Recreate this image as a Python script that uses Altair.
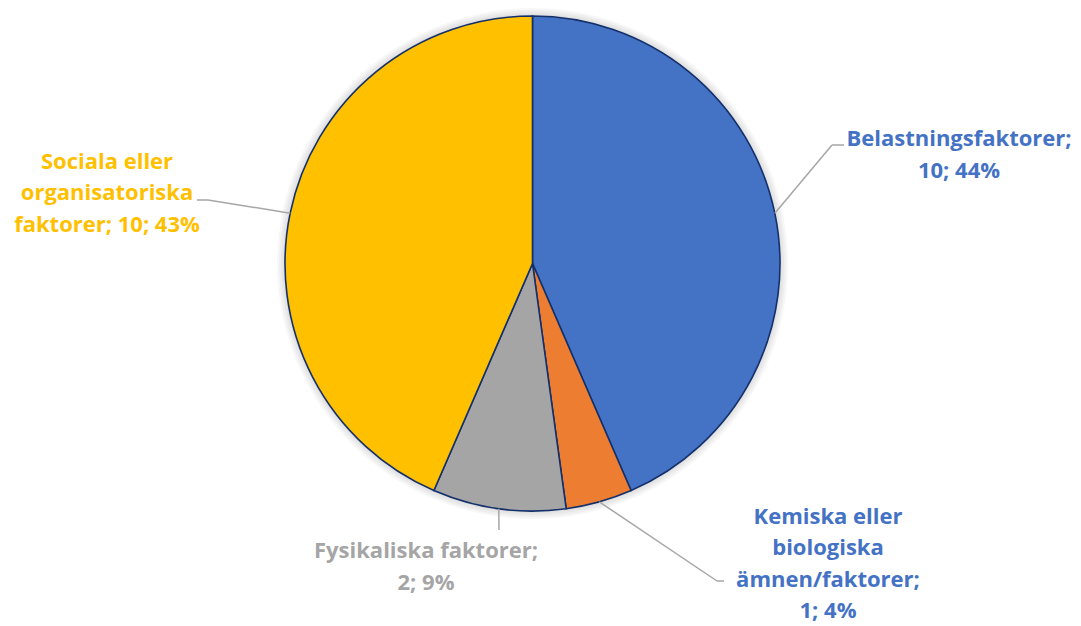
import math
import altair as alt
import pandas as pd

# ---- data ----
categories = ["Belastningsfaktorer", "Kemiska eller biologiska ämnen/faktorer",
              "Fysikaliska faktorer", "Sociala eller organisatoriska faktorer"]
values = [10, 1, 2, 10]
percents = [44, 4, 9, 43]
label_lines = [
    ["Belastningsfaktorer;", "10; 44%"],
    ["Kemiska eller", "biologiska", "ämnen/faktorer;", "1; 4%"],
    ["Fysikaliska faktorer;", "2; 9%"],
    ["Sociala eller", "organisatoriska", "faktorer; 10; 43%"],
]
slice_colors = ["#4472C4", "#ED7D31", "#A5A5A5", "#FFC000"]
text_colors = ["#4472C4", "#4472C4", "#A5A5A5", "#FFC000"]

# ---- layout (pixels, chart coordinates) ----
W, H = 1065, 618
CX, CY, R = 524.5, 253.5, 247.5
FONT = "Open Sans"
FS = 22
LINE_H = 31.5
# label block centre x, first-line baseline y
label_pos = [(951, 136.3), (820, 513.5), (418, 548), (99, 158.7)]
# leader elbow and end points
leader_elbow = [(824, 135), (709, 571), (491, 520), (200, 190)]
leader_end = [(836, 135), (716, 571), (491, 520), (189, 190)]

df = pd.DataFrame({"cat": categories, "value": values, "idx": range(len(values))})

total = sum(values)
cum = 0
seg_rows = []
text_rows = []
for i, v in enumerate(values):
    mid = (cum + v / 2) / total * 2 * math.pi
    cum += v
    sx = CX + R * math.sin(mid)
    sy = CY - R * math.cos(mid)
    ex, ey = leader_elbow[i]
    tx, ty = leader_end[i]
    seg_rows.append({"x": sx, "y": sy, "x2": ex, "y2": ey})
    seg_rows.append({"x": ex, "y": ey, "x2": tx, "y2": ty})
    lx, ly = label_pos[i]
    for j, line in enumerate(label_lines[i]):
        text_rows.append({"x": lx, "y": ly + j * LINE_H, "t": line, "c": text_colors[i]})

segs = pd.DataFrame(seg_rows)
texts = pd.DataFrame(text_rows)

# soft glow around the pie
glow_df = pd.DataFrame({"value": [total]})
glows = [
    alt.Chart(glow_df).mark_arc(outerRadius=R + k, color="black", opacity=0.03).encode(
        theta=alt.Theta("value:Q", stack=True), x=alt.value(CX), y=alt.value(CY)
    )
    for k in (2, 4, 6, 8)
]

pie = alt.Chart(df).mark_arc(
    outerRadius=R, stroke="#13306B", strokeWidth=1.6
).encode(
    theta=alt.Theta("value:Q", stack=True),
    color=alt.Color("cat:N", scale=alt.Scale(domain=categories, range=slice_colors), legend=None),
    order=alt.Order("idx:Q"),
    x=alt.value(CX),
    y=alt.value(CY),
)

leaders = alt.Chart(segs).mark_rule(color="#A6A6A6", strokeWidth=1.5).encode(
    x=alt.X("x:Q", scale=None), y=alt.Y("y:Q", scale=None),
    x2="x2:Q", y2="y2:Q",
)

labels = alt.Chart(texts).mark_text(
    font=FONT, fontSize=FS, fontWeight="bold", align="center", baseline="alphabetic"
).encode(
    x=alt.X("x:Q", scale=None), y=alt.Y("y:Q", scale=None),
    text="t:N", color=alt.Color("c:N", scale=None),
)

chart = alt.layer(*glows, pie, leaders, labels).properties(
    width=W, height=H, padding=0,
    autosize=alt.AutoSizeParams(type="fit", contains="padding"),
).configure_view(stroke=None)

chart.save("out.html", embed_options={"renderer": "svg", "actions": False})
